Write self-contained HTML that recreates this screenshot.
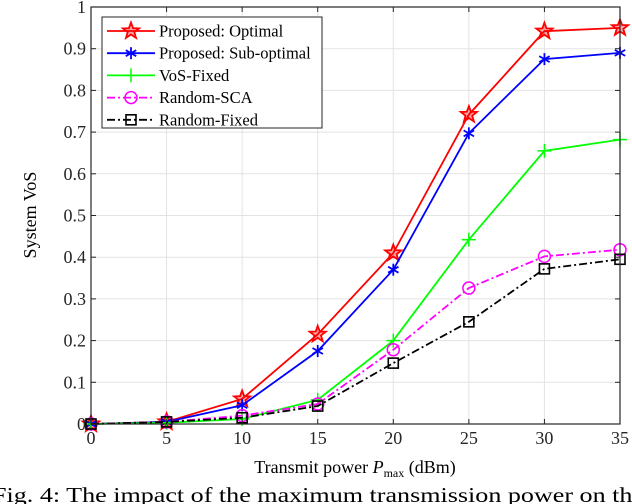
<!DOCTYPE html>
<html><head><meta charset="utf-8"><style>
body{margin:0;background:#fff;}
svg{display:block;font-family:"Liberation Serif",serif;}
</style></head><body>
<svg id="c" width="632" height="504" viewBox="0 0 632 504">
<rect x="0" y="0" width="632" height="504" fill="#fff"/>
<g id="grid"></g><g id="series"></g><g id="axes"></g><g id="legend"></g>
<text x="36" y="215" font-size="18" text-anchor="middle" transform="rotate(-90 36 215)">System VoS</text>
<text x="355" y="473" font-size="18" text-anchor="middle">Transmit power <tspan font-style="italic">P</tspan><tspan font-size="12" dy="4">max</tspan><tspan dy="-4"> (dBm)</tspan></text>
<text x="-8" y="502" font-size="21" textLength="652" lengthAdjust="spacingAndGlyphs">Fig. 4: The impact of the maximum transmission power on the</text>
</svg>
<script>
const xs=[0,5,10,15,20,25,30,35];
const optimal=[0,0.005,0.06,0.215,0.41,0.742,0.942,0.95];
const subOptimal=[0,0.005,0.045,0.175,0.37,0.697,0.875,0.89];
const vosFixed=[0,0.003,0.012,0.058,0.2,0.442,0.655,0.682];
const randomSCA=[0,0.005,0.02,0.048,0.178,0.326,0.402,0.418];
const randomFixed=[0,0.005,0.015,0.043,0.146,0.245,0.372,0.395];
const xTicks=[0,5,10,15,20,25,30,35];
const yTicks=[0,0.1,0.2,0.3,0.4,0.5,0.6,0.7,0.8,0.9,1];
const yTickLabels=['0','0.1','0.2','0.3','0.4','0.5','0.6','0.7','0.8','0.9','1'];
const NS='http://www.w3.org/2000/svg';
const L=91,R=620,T=7,B=424;
const X=v=>L+(v-0)/(35-0)*(R-L);
const Y=v=>B-(v-0)/(1-0)*(B-T);
function mk(tag,attrs,parent){const e=document.createElementNS(NS,tag);for(const k in attrs)e.setAttribute(k,attrs[k]);parent.appendChild(e);return e;}
const grid=document.getElementById('grid'),axes=document.getElementById('axes'),ser=document.getElementById('series'),leg=document.getElementById('legend');
xTicks.forEach(t=>{
 const g=mk('line',{x1:X(t),x2:X(t),y1:T,y2:B,stroke:'#e3e3e3','stroke-width':1},grid);
 
 
 mk('line',{x1:X(t),x2:X(t),y1:B,y2:B-5,stroke:'#262626'},axes);
 mk('line',{x1:X(t),x2:X(t),y1:T,y2:T+5,stroke:'#262626'},axes);
 const tx=mk('text',{x:X(t),y:B+20,'font-size':18,'text-anchor':'middle',fill:'#262626'},axes);
 tx.textContent=t;
 
 
});
yTicks.forEach((t,i)=>{
 const g=mk('line',{x1:L,x2:R,y1:Y(t),y2:Y(t),stroke:'#e3e3e3','stroke-width':1},grid);
 
 
 mk('line',{x1:L,x2:L+5,y1:Y(t),y2:Y(t),stroke:'#262626'},axes);
 mk('line',{x1:R,x2:R-5,y1:Y(t),y2:Y(t),stroke:'#262626'},axes);
 const tx=mk('text',{x:L-5,y:Y(t)+6,'font-size':18,'text-anchor':'end',fill:'#262626'},axes);
 tx.textContent=yTickLabels[i];
 
 
});
const frame=mk('rect',{x:L,y:T,width:R-L,height:B-T,fill:'none',stroke:'#262626','stroke-width':1.2},axes);


function marker(type,x,y,color,p){
 if(type==='star'){let pts=[];for(let k=0;k<10;k++){const r=k%2?3.5:8.5,a=-Math.PI/2+k*Math.PI/5;pts.push((x+r*Math.cos(a)).toFixed(1)+','+(y+r*Math.sin(a)).toFixed(1));}
  mk('polygon',{points:pts.join(' '),fill:'rgba(255,0,0,0.35)',stroke:color,'stroke-width':1.8},p);}
 else if(type==='asterisk'){[[0,6],[5.2,3],[5.2,-3]].forEach(([dx,dy])=>mk('line',{x1:x-dx,y1:y-dy,x2:x+dx,y2:y+dy,stroke:color,'stroke-width':1.8},p));}
 else if(type==='plus'){mk('line',{x1:x-7,y1:y,x2:x+7,y2:y,stroke:color,'stroke-width':1.5},p);mk('line',{x1:x,y1:y-7,x2:x,y2:y+7,stroke:color,'stroke-width':1.5},p);}
 else if(type==='circle'){mk('circle',{cx:x,cy:y,r:6,fill:'none',stroke:color,'stroke-width':1.5},p);}
 else if(type==='square'){mk('rect',{x:x-5,y:y-5,width:10,height:10,fill:'none',stroke:color,'stroke-width':1.6},p);}
}
const series=[
 {name:'Proposed: Optimal',data:optimal,color:'#ff0000',dash:'',m:'star',id:'series-optimal'},
 {name:'Proposed: Sub-optimal',data:subOptimal,color:'#0000ff',dash:'',m:'asterisk',id:'series-sub-optimal'},
 {name:'VoS-Fixed',data:vosFixed,color:'#00ff00',dash:'',m:'plus',id:'series-vos-fixed'},
 {name:'Random-SCA',data:randomSCA,color:'#ff00ff',dash:'8 3 2 3',m:'circle',id:'series-random-sca'},
 {name:'Random-Fixed',data:randomFixed,color:'#000000',dash:'8 3 2 3',m:'square',id:'series-random-fixed'}
];
series.forEach(s=>{
 const g=mk('g',{},ser);
 
 
 mk('polyline',{points:s.data.map((v,i)=>X(xs[i])+','+Y(v)).join(' '),fill:'none',stroke:s.color,'stroke-width':1.8,'stroke-dasharray':s.dash},g);
 s.data.forEach((v,i)=>marker(s.m,X(xs[i]),Y(v),s.color,g));
});
const lb=mk('rect',{x:102,y:17,width:220,height:111,fill:'#fff',stroke:'#262626','stroke-width':1},leg);


series.forEach((s,i)=>{
 const y=31+i*22.2;
 const g=mk('g',{},leg);
 
 
 mk('line',{x1:107,x2:155,y1:y,y2:y,stroke:s.color,'stroke-width':1.8,'stroke-dasharray':s.dash},g);
 marker(s.m,131,y,s.color,g);
 const t=mk('text',{x:159,y:y+5.5,'font-size':16.5},g);
 t.textContent=s.name;
});
</script>
</body></html>
